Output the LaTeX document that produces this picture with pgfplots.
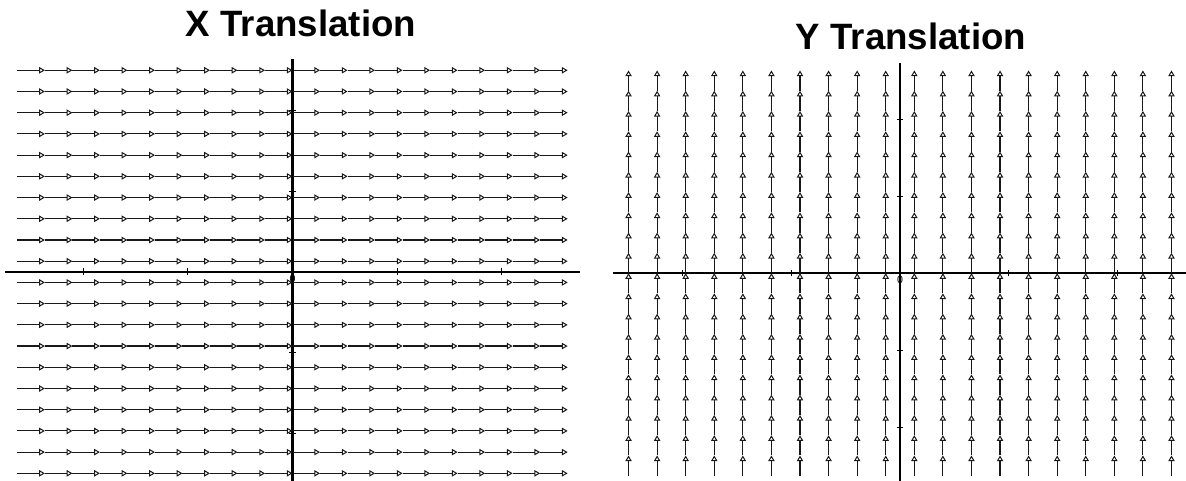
\documentclass[border=0pt]{standalone}
\usepackage{fontspec}
\setmainfont{Liberation Sans}
\setsansfont{Liberation Sans}
\usepackage{pgfplots}
\pgfplotsset{compat=1.18}
\usepackage{pgfplotstable}
\usetikzlibrary{arrows.meta}

% g: grid positions along one axis of the 20 x 20 grid;
% s: tail of the arrow at that grid point (arrows are one grid step,
%    0.5263, long and centred on their grid point).
\pgfplotstableread{
g s
-5.0000 -5.2632
-4.4737 -4.7368
-3.9474 -4.2105
-3.4211 -3.6842
-2.8947 -3.1579
-2.3684 -2.6316
-1.8421 -2.1053
-1.3158 -1.5789
-0.7895 -1.0526
-0.2632 -0.5263
0.2632 0
0.7895 0.5263
1.3158 1.0526
1.8421 1.5789
2.3684 2.1053
2.8947 2.6316
3.4211 3.1579
3.9474 3.6842
4.4737 4.2105
5.0000 4.7368
}\tails

\pgfplotsset{
  fieldaxis/.style={
    anchor=south west, scale only axis,
    axis lines=middle,
    axis line style={-, line width=1.8pt, black},
    xtick={-4,-2,0,2,4}, ytick={-4,-2,2,4},
    xticklabels={}, yticklabels={},
    tick align=center, major tick length=5pt,
    tick style={black, line width=0.7pt},
    clip=false,
  },
  fieldarrow/.style={
    black!90, line width=0.85pt, no markers,
    -{Triangle[open, length=4.3pt, width=4.8pt, line width=0.75pt]},
  },
}
\tikzset{
  zerolabel/.style={anchor=north, inner sep=0pt, yshift=-2pt,
    font=\fontsize{8}{8}\selectfont},
}

\begin{document}
\begin{tikzpicture}[x=0.75pt, y=0.75pt]
\path[use as bounding box] (0,0) rectangle (1186,481);

\node[font=\bfseries\fontsize{27.5}{31}\selectfont] at (301,458) {X Translation};
\node[font=\bfseries\fontsize{27.5}{31}\selectfont] at (911,445) {Y Translation};

% field (1, 0)
\begin{axis}[fieldaxis, at={(3.75pt,0pt)},
  width=431.25pt, height=316.8pt,
  xmin=-5.5, xmax=5.5, ymin=-5.19, ymax=5.29]
\pgfplotsinvokeforeach{-5,-4.4737,-3.9474,-3.4211,-2.8947,-2.3684,-1.8421,-1.3158,-0.7895,-0.2632,0.2632,0.7895,1.3158,1.8421,2.3684,2.8947,3.4211,3.9474,4.4737,5}{
  \addplot[fieldarrow, quiver={u=0.5263, v=0}] table[x=s, y expr=#1] {\tails};
}
\node[zerolabel] at (axis cs:0,0) {0};
\end{axis}

% field (0, 1)
\begin{axis}[fieldaxis, at={(460pt,0pt)},
  width=429.2pt, height=313.3pt,
  xmin=-5.28, xmax=5.26, ymin=-5.40, ymax=5.45]
\pgfplotsinvokeforeach{-5,-4.4737,-3.9474,-3.4211,-2.8947,-2.3684,-1.8421,-1.3158,-0.7895,-0.2632,0.2632,0.7895,1.3158,1.8421,2.3684,2.8947,3.4211,3.9474,4.4737,5}{
  \addplot[fieldarrow, quiver={u=0, v=0.5263}] table[x expr=#1, y=s] {\tails};
}
\node[zerolabel] at (axis cs:0,0) {0};
\end{axis}
\end{tikzpicture}
\end{document}
